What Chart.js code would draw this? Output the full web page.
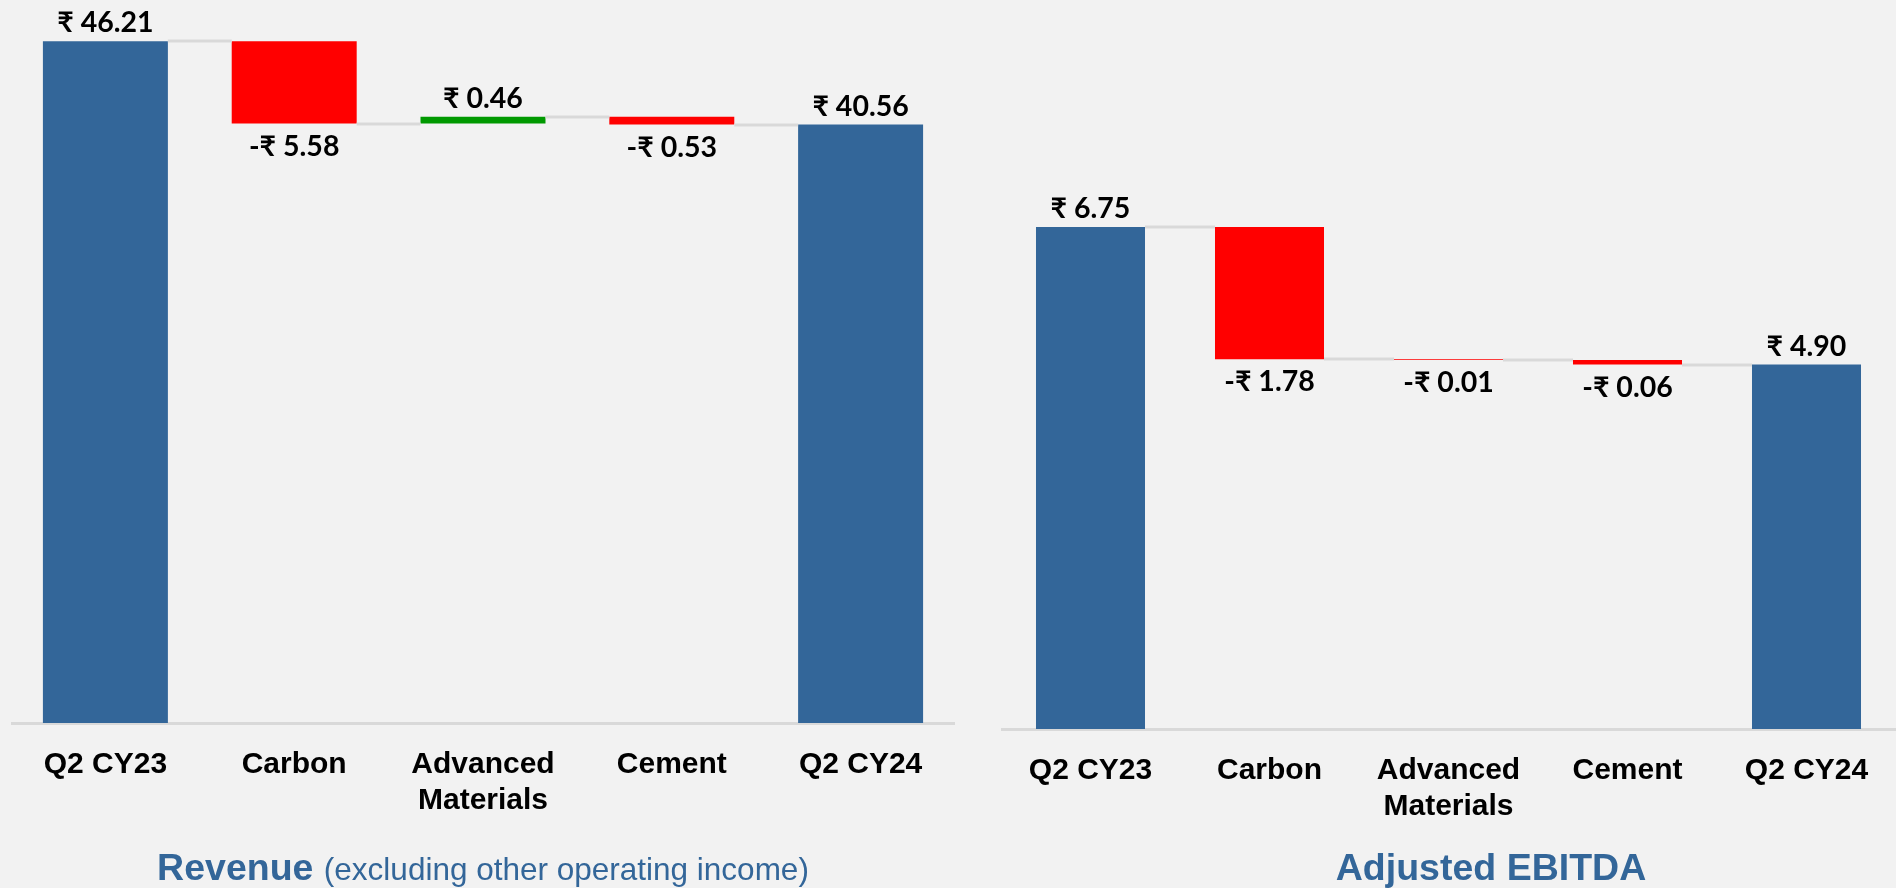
<!DOCTYPE html>
<html>
<head>
<meta charset="utf-8">
<script src="https://cdn.jsdelivr.net/npm/chart.js@4.4.1/dist/chart.umd.min.js"></script>
<style>
  html, body { margin: 0; padding: 0; background: #f2f2f2; }
  body { width: 1896px; height: 888px; position: relative; overflow: hidden; font-family: "Liberation Sans", Arial, sans-serif; }
  canvas { position: absolute; top: 0; }
  .title { position: absolute; top: 849px; white-space: nowrap; color: #336699; font-size: 37.5px; font-weight: bold; line-height: 37px; transform: translateX(-50%); }
  .title span { font-weight: normal; font-size: 31.5px; }
</style>
</head>
<body>
<canvas id="revenueChart" width="944" height="888" style="left:11px"></canvas>
<canvas id="ebitdaChart" width="895" height="888" style="left:1001px"></canvas>
<div class="title" style="left:483px">Revenue <span>(excluding other operating income)</span></div>
<div class="title" style="left:1491px">Adjusted EBITDA</div>
<script>
// chart data
var categories = ['Q2 CY23', 'Carbon', ['Advanced', 'Materials'], 'Cement', 'Q2 CY24'];
var revenueValues = [46.21, -5.58, 0.46, -0.53, 40.56];
var ebitdaValues = [6.75, -1.78, -0.01, -0.06, 4.90];

var BLUE = '#336699', RED = '#ff0000', GREEN = '#009900';

// turn the changes into floating bars + running totals
function buildWaterfall(values) {
    var bars = [], levels = [], colors = [], running = 0;
    values.forEach(function(v, i) {
        if (i === 0 || i === values.length - 1) {
            bars.push([0, v]);
            running = v;
            colors.push(BLUE);
        } else {
            bars.push([running, running + v]);
            running += v;
            colors.push(v < 0 ? RED : GREEN);
        }
        levels.push(running);
    });
    return { bars: bars, levels: levels, colors: colors };
}

function fmt(v) {
    return (v < 0 ? '-\u20B9 ' : '\u20B9 ') + Math.abs(v).toFixed(2);
}

var waterfallPlugin = {
    id: 'waterfall',
    afterDatasetsDraw: function(chart, args, opts) {
        var ctx = chart.ctx;
        var meta = chart.getDatasetMeta(0);
        var yScale = chart.scales.y;
        ctx.save();
        // connectors
        ctx.strokeStyle = '#d9d9d9';
        ctx.lineWidth = 3;
        for (var i = 0; i < meta.data.length - 1; i++) {
            var a = meta.data[i], b = meta.data[i + 1];
            var py = Math.round(yScale.getPixelForValue(opts.levels[i]));
            ctx.beginPath();
            ctx.moveTo(a.x + a.width / 2, py);
            ctx.lineTo(b.x - b.width / 2, py);
            ctx.stroke();
        }
        // value labels
        ctx.fillStyle = '#000';
        ctx.font = 'bold 28.5px Lato, "Noto Sans", sans-serif';
        ctx.textAlign = 'center';
        ctx.textBaseline = 'alphabetic';
        meta.data.forEach(function(el, i) {
            var v = opts.values[i];
            var top = Math.min(el.y, el.base), bottom = Math.max(el.y, el.base);
            if (v < 0) {
                ctx.fillText(fmt(v), el.x, bottom + 32);
            } else {
                ctx.fillText(fmt(v), el.x, top - 9);
            }
        });
        ctx.restore();
    }
};

function makeChart(id, values, yMax, barPct, axisHeight) {
    var wf = buildWaterfall(values);
    return new Chart(document.getElementById(id), {
        type: 'bar',
        data: {
            labels: categories,
            datasets: [{
                data: wf.bars,
                backgroundColor: wf.colors,
                borderWidth: 0,
                barPercentage: barPct,
                categoryPercentage: 1
            }]
        },
        options: {
            responsive: false,
            animation: false,
            layout: { padding: 0 },
            plugins: {
                legend: { display: false },
                tooltip: { enabled: false },
                waterfall: { values: values, levels: wf.levels }
            },
            scales: {
                x: {
                    grid: { display: false, drawTicks: false },
                    border: { display: true, color: '#d9d9d9', width: 3 },
                    ticks: {
                        color: '#000',
                        padding: 24,
                        maxRotation: 0,
                        autoSkip: false,
                        font: { family: '"Liberation Sans", Arial, sans-serif', size: 30, weight: 'bold', lineHeight: 1.2 }
                    },
                    afterFit: function(scale) { scale.height = axisHeight; }
                },
                y: { display: false, min: 0, max: yMax }
            }
        },
        plugins: [waterfallPlugin]
    });
}

makeChart('revenueChart', revenueValues, 49, 0.662, 165);
makeChart('ebitdaChart', ebitdaValues, 9.8, 0.609, 159);
</script>
</body>
</html>
